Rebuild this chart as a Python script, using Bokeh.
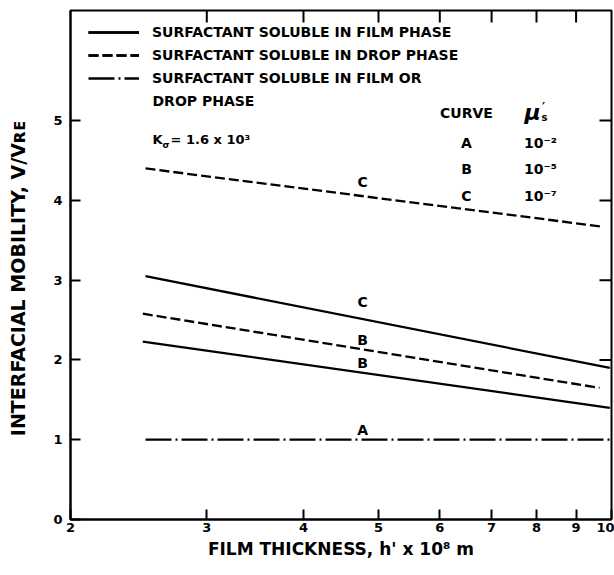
import math

from bokeh.core.properties import value
from bokeh.embed import file_html
from bokeh.models import (ColumnDataSource, FixedTicker, Label, Legend, LegendItem,
                          NumeralTickFormatter, Range1d)
from bokeh.plotting import figure
from bokeh.resources import INLINE

FONT = "DejaVu Sans"

# Film thickness h' (x 10^-8 m) and interfacial mobility V/V_RE at the ends of each curve
h_film_C = [2.50, 9.95]
v_film_C = [3.05, 1.90]
h_film_B = [2.48, 9.95]
v_film_B = [2.23, 1.40]
h_drop_C = [2.50, 9.75]
v_drop_C = [4.40, 3.67]
h_drop_B = [2.48, 9.65]
v_drop_B = [2.58, 1.65]
h_both_A = [2.50, 9.95]
v_both_A = [1.00, 1.00]

# curve tags written next to the lines
tag_text = ["C", "C", "B", "B", "A"]
tag_h = [4.77, 4.77, 4.77, 4.77, 4.77]
tag_v = [4.23, 2.73, 2.25, 1.96, 1.12]

x_ticks = [2, 3, 4, 5, 6, 7, 8, 9, 10]
y_ticks = [0, 1, 2, 3, 4, 5]
x_inner_ticks = [3.0, 4.0, 5.0, 6.0, 7.0, 8.0, 9.0]
y_right_ticks = [2.0, 3.0, 4.0, 5.0]

key_curve = ["A", "B", "C"]
key_mu = ["10⁻²", "10⁻⁵", "10⁻⁷"]

X_LO, X_HI = 2.0, 10.0
Y_LO, Y_HI = 0.0, 6.38
FRAME_W, FRAME_H = 541.0, 509.0
TICK_PX = 12.0

p = figure(width=614, height=575, x_axis_type="log",
           x_range=Range1d(X_LO, X_HI), y_range=Range1d(Y_LO, Y_HI),
           output_backend="svg", toolbar_location=None,
           min_border_left=70, min_border_right=3,
           min_border_top=10, min_border_bottom=56)
p.grid.visible = False
p.outline_line_color = "black"
p.outline_line_width = 2
p.background_fill_color = "white"
p.border_fill_color = "white"

# bottom axis
xa = p.xaxis[0]
xa.ticker = FixedTicker(ticks=x_ticks, minor_ticks=[])
xa.formatter = NumeralTickFormatter(format="0")
xa.major_tick_in = 10
xa.major_tick_out = 0
xa.minor_tick_line_color = None
xa.major_tick_line_width = 2
xa.axis_line_width = 2
xa.major_label_standoff = 3
xa.major_label_text_font = FONT
xa.major_label_text_font_style = "bold"
xa.major_label_text_font_size = "13px"
xa.major_label_text_color = "black"
xa.axis_label = "FILM THICKNESS, h' x 10⁸ m"
xa.axis_label_text_font = FONT
xa.axis_label_text_font_style = "bold"
xa.axis_label_text_font_size = "17px"
xa.axis_label_text_color = "black"
xa.axis_label_standoff = 4

# left axis; small capitals stand in for the subscript of V_RE
ya = p.yaxis[0]
ya.ticker = FixedTicker(ticks=y_ticks, minor_ticks=[])
ya.major_tick_in = 10
ya.major_tick_out = 0
ya.minor_tick_line_color = None
ya.major_tick_line_width = 2
ya.axis_line_width = 2
ya.major_label_standoff = 8
ya.major_label_text_font = FONT
ya.major_label_text_font_style = "bold"
ya.major_label_text_font_size = "13px"
ya.major_label_text_color = "black"
ya.axis_label = "INTERFACIAL MOBILITY, V/V\u0280\u1d07" + "\u00a0" * 4
ya.axis_label_text_font = FONT
ya.axis_label_text_font_style = "bold"
ya.axis_label_text_font_size = "19px"
ya.axis_label_text_color = "black"
ya.axis_label_standoff = 21

lw = 2.3
r_fC = p.line(h_film_C, v_film_C, line_color="black", line_width=lw)
r_fB = p.line(h_film_B, v_film_B, line_color="black", line_width=lw)
r_dC = p.line(h_drop_C, v_drop_C, line_color="black", line_width=lw, line_dash="10 4")
r_dB = p.line(h_drop_B, v_drop_B, line_color="black", line_width=lw, line_dash="10 4")
r_A = p.line(h_both_A, v_both_A, line_color="black", line_width=lw, line_dash="26 4 2 4")

# inward tick marks on the top and right edges (all coordinates as floats)
y_tick_end = Y_HI - TICK_PX * (Y_HI - Y_LO) / FRAME_H
x_tick_end = X_HI / (X_HI / X_LO) ** (TICK_PX / FRAME_W)
top_src = ColumnDataSource(dict(x0=[float(t) for t in x_inner_ticks],
                                x1=[float(t) for t in x_inner_ticks],
                                y0=[float(Y_HI)] * len(x_inner_ticks),
                                y1=[float(y_tick_end)] * len(x_inner_ticks)))
right_src = ColumnDataSource(dict(x0=[float(X_HI)] * len(y_right_ticks),
                                  x1=[float(x_tick_end)] * len(y_right_ticks),
                                  y0=[float(t) for t in y_right_ticks],
                                  y1=[float(t) for t in y_right_ticks]))
p.segment(x0="x0", y0="y0", x1="x1", y1="y1", source=top_src,
          line_color="black", line_width=2)
p.segment(x0="x0", y0="y0", x1="x1", y1="y1", source=right_src,
          line_color="black", line_width=2)

tags = ColumnDataSource(dict(h=tag_h, v=tag_v, t=tag_text))
p.text(x="h", y="v", text="t", source=tags, text_font=value(FONT),
       text_font_style="bold", text_font_size="14px",
       text_align="center", text_baseline="middle", text_color="black")

legend = Legend(items=[
    LegendItem(label="SURFACTANT SOLUBLE IN FILM PHASE", renderers=[r_fC, r_fB]),
    LegendItem(label="SURFACTANT SOLUBLE IN DROP PHASE", renderers=[r_dC, r_dB]),
    LegendItem(label="SURFACTANT SOLUBLE IN FILM OR", renderers=[r_A]),
], location=(18, 431), padding=0, margin=0, spacing=3,
    label_height=20, glyph_height=20, glyph_width=51, label_standoff=13,
    label_text_font=FONT, label_text_font_style="bold", label_text_font_size="14px",
    label_text_color="black",
    background_fill_alpha=0, border_line_alpha=0)
p.add_layout(legend)


def note(x, y, text, size="14px", align="left", style="bold", baseline="middle"):
    p.add_layout(Label(x=x, y=y, x_units="screen", y_units="screen", text=text,
                       text_font=FONT, text_font_style=style, text_font_size=size,
                       text_align=align, text_baseline=baseline, text_color="black"))


note(82, 419, "DROP PHASE")

# key of curves and surface viscosities
note(396, 407, "CURVE", align="center")
note(462, 407, "μ", size="22px", align="center", style="bold italic")
note(473, 413, "′", size="12px", align="center")
note(474, 402, "s", size="10px", align="center")
for i, (c, mu) in enumerate(zip(key_curve, key_mu)):
    note(396, 377 - 26.5 * i, c, align="center")
    note(470, 377 - 26.5 * i, mu, align="center")

note(82, 380, "K", size="13px")
note(92, 375, "σ", size="9px")
note(100, 380, "= 1.6 x 10³", size="13px")

open("out.html", "w").write(file_html(p, INLINE))
